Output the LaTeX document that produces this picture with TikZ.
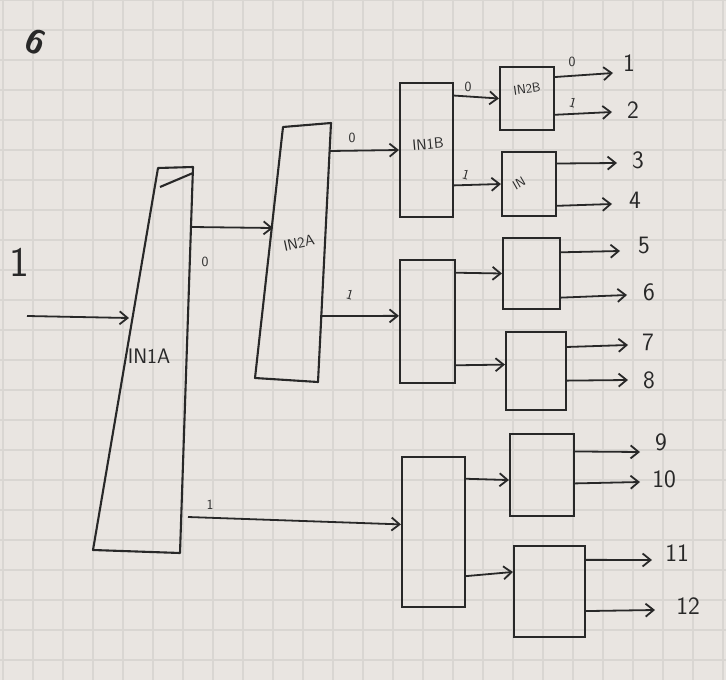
\documentclass[tikz,border=0pt]{standalone}
\usepackage{xcolor}
\usepackage{tikz}
\usetikzlibrary{
    positioning,
    arrows.meta,
    calc
}
\definecolor{paper}{RGB}{233,229,225}
\definecolor{gridline}{RGB}{217,214,210}
\definecolor{pen}{RGB}{40,40,40}

\begin{document}
\begin{tikzpicture}[x=1pt, y=-1pt, font=\sffamily,
    blk/.style={draw=pen, line width=2.1pt, inner sep=0pt},
    arr/.style={-{Straight Barb[length=8pt, width=13pt, line width=1.8pt]}, line width=1.8pt, draw=pen},
    bit/.style={text=pen, font=\sffamily\fontsize{14}{14}\selectfont, inner sep=1pt},
    outn/.style={text=pen, font=\sffamily\fontsize{25}{25}\selectfont, inner sep=1pt},
    tag/.style={text=pen, inner sep=0pt}]

    \useasboundingbox (0,0) rectangle (726,680);

    % ============ PAPER ============
    \fill[paper] (0,0) rectangle (726,680);
    \foreach \gx in {3,33,...,726} \draw[gridline, line width=1.2pt] (\gx,0) -- (\gx,680);
    \foreach \gy in {0,30,...,680} \draw[gridline, line width=1.2pt] (0,\gy) -- (726,\gy);
    \node[tag, font=\sffamily\bfseries\fontsize{34}{34}\selectfont, rotate=-25] (mark) at (36,42) {6};

    % ============ FIRST STAGE: IN1A ============
    \coordinate (IA-tl) at (158,168);
    \coordinate (IA-tr) at (193,167);
    \coordinate (IA-br) at (180,553);
    \coordinate (IA-bl) at (93,550);
    \draw[blk, line join=round] (IA-tl) -- (IA-tr) -- (IA-br) -- (IA-bl) -- cycle;
    \draw[blk] (160,187) -- (193,173);
    \node[tag, font=\sffamily\fontsize{21}{21}\selectfont] (IAl) at (149,356) {IN1A};

    \node[tag, font=\sffamily\fontsize{42}{42}\selectfont] (inl) at (19,262) {1};
    \coordinate (src) at (27,316);
    \coordinate (IA-in) at (129,318);
    \draw[arr] (src) -- (IA-in);

    % ============ SECOND STAGE: IN2A ============
    \coordinate (IIA-tl) at (283,127);
    \coordinate (IIA-tr) at (331,123);
    \coordinate (IIA-br) at (318,382);
    \coordinate (IIA-bl) at (255,378);
    \draw[blk, line join=round] (IIA-tl) -- (IIA-tr) -- (IIA-br) -- (IIA-bl) -- cycle;
    \node[tag, font=\sffamily\fontsize{15}{15}\selectfont, rotate=12] (IIAl) at (299,243) {IN2A};

    \coordinate (IA-o0) at (192,227);
    \coordinate (IIA-in) at (273,228);
    \draw[arr] (IA-o0) -- (IIA-in);
    \node[bit] at (205,262) {0};

    % ============ THIRD STAGE ============
    \node[blk, minimum width=53, minimum height=134] (IB) at (426.5,150) {};
    \node[tag, font=\sffamily\fontsize{15}{15}\selectfont, rotate=5] at (428,144) {IN1B};
    \node[blk, minimum width=55, minimum height=123] (M2) at (427.5,321.5) {};
    \node[blk, minimum width=63, minimum height=150] (M3) at (433.5,532) {};

    \coordinate (IIA-o0) at (330,151);
    \coordinate (IIA-o1) at (320,316);
    \draw[arr] (IIA-o0) -- (IB.west);
    \node[bit] at (352,138) {0};
    \draw[arr] (IIA-o1) -- ($(M2.north west)!0.455!(M2.south west)$);
    \node[bit, rotate=-15] at (350,295) {1};

    \coordinate (IA-o1) at (188,517);
    \draw[arr] (IA-o1) -- ($(M3.north west)!0.45!(M3.south west)$);
    \node[bit] at (210,505) {1};

    % ============ FOURTH STAGE ============
    \node[blk, minimum width=54, minimum height=63] (IIB) at (527,98.5) {};
    \node[tag, font=\sffamily\fontsize{13}{13}\selectfont, rotate=8] at (527,89) {IN2B};
    \node[blk, minimum width=54, minimum height=64] (INX) at (529,184) {};
    \node[tag, font=\sffamily\fontsize{13}{13}\selectfont, rotate=30] at (519,183) {IN};
    \node[blk, minimum width=57, minimum height=71] (F5) at (531.5,273.5) {};
    \node[blk, minimum width=60, minimum height=78] (F7) at (536,371) {};
    \node[blk, minimum width=64, minimum height=82] (F9) at (542,475) {};
    \node[blk, minimum width=71, minimum height=91] (F11) at (549.5,591.5) {};

    \draw[arr] ($(IB.north east)!0.1!(IB.south east)$) -- (IIB.west);
    \node[bit] at (468,87) {0};
    \draw[arr] ($(IB.north east)!0.76!(IB.south east)$) -- (INX.west);
    \node[bit, rotate=-15] at (466,175) {1};

    \draw[arr] ($(M2.north east)!0.11!(M2.south east)$) -- (F5.west);
    \draw[arr] ($(M2.north east)!0.85!(M2.south east)$) -- ($(F7.north west)!0.42!(F7.south west)$);
    \draw[arr] ($(M3.north east)!0.15!(M3.south east)$) -- ($(F9.north west)!0.56!(F9.south west)$);
    \draw[arr] ($(M3.north east)!0.79!(M3.south east)$) -- ($(F11.north west)!0.29!(F11.south west)$);

    % ============ OUTPUTS ============
    \node[outn] (o1) at (629,63) {1};
    \node[outn] (o2) at (633,110) {2};
    \node[outn] (o3) at (638,160) {3};
    \node[outn] (o4) at (635,200) {4};
    \node[outn] (o5) at (644,245) {5};
    \node[outn] (o6) at (649,292) {6};
    \node[outn] (o7) at (648,342) {7};
    \node[outn] (o8) at (649,380) {8};
    \node[outn] (o9) at (661,442) {9};
    \node[outn] (o10) at (664,479) {10};
    \node[outn] (o11) at (677,553) {11};
    \node[outn] (o12) at (688,606) {12};

    \coordinate (e1) at (613,73);
    \coordinate (e2) at (612,112);
    \coordinate (e3) at (617,163);
    \coordinate (e4) at (612,204);
    \coordinate (e5) at (620,251);
    \coordinate (e6) at (627,295);
    \coordinate (e7) at (628,345);
    \coordinate (e8) at (628,380);
    \coordinate (e9) at (640,452);
    \coordinate (e10) at (640,482);
    \coordinate (e11) at (652,560);
    \coordinate (e12) at (655,610);

    \draw[arr] ($(IIB.north east)!0.17!(IIB.south east)$) -- (e1);
    \node[bit] at (572,62) {0};
    \draw[arr] ($(IIB.north east)!0.75!(IIB.south east)$) -- (e2);
    \node[bit, rotate=-15] at (573,103) {1};
    \draw[arr] ($(INX.north east)!0.19!(INX.south east)$) -- (e3);
    \draw[arr] ($(INX.north east)!0.83!(INX.south east)$) -- (e4);
    \draw[arr] ($(F5.north east)!0.21!(F5.south east)$) -- (e5);
    \draw[arr] ($(F5.north east)!0.83!(F5.south east)$) -- (e6);
    \draw[arr] ($(F7.north east)!0.2!(F7.south east)$) -- (e7);
    \draw[arr] ($(F7.north east)!0.62!(F7.south east)$) -- (e8);
    \draw[arr] ($(F9.north east)!0.22!(F9.south east)$) -- (e9);
    \draw[arr] ($(F9.north east)!0.6!(F9.south east)$) -- (e10);
    \draw[arr] ($(F11.north east)!0.16!(F11.south east)$) -- (e11);
    \draw[arr] ($(F11.north east)!0.71!(F11.south east)$) -- (e12);

\end{tikzpicture}
\end{document}
